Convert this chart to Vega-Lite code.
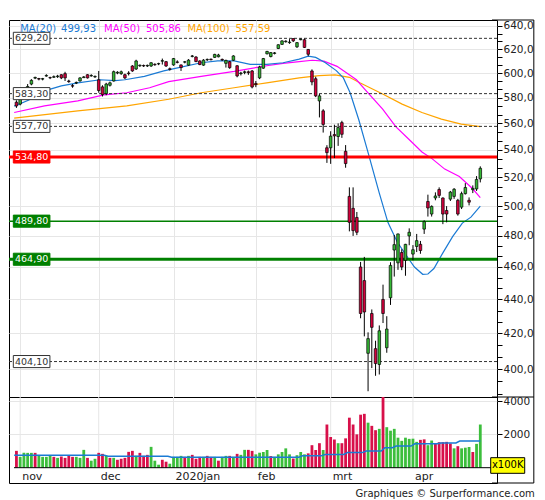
{
  "$schema": "https://vega.github.io/schema/vega-lite/v6.json",
  "padding": {"left": 7, "top": 19, "right": 0, "bottom": 0},
  "background": "white",
  "config": {
    "font": "DejaVu Sans",
    "view": {"stroke": "#000", "strokeWidth": 1},
    "axis": {"labelOverlap": false},
    "locale": {"number": {"decimal": ",", "thousands": ".", "grouping": [3], "currency": ["", " €"]}}
  },
  "title": {"text": "Graphiques © Surperformance.com", "orient": "bottom", "anchor": "end", "frame": "bounds", "fontSize": 10, "fontWeight": "normal", "color": "#222", "offset": 5, "baseline": "top"},
  "datasets": {
    "bars": [
      {"i":0,"o":576.5,"h":578,"l":572,"c":573.5,"v":1010,"vd":"d"},
      {"i":1,"o":575,"h":582,"l":574,"c":581,"v":650,"vd":"u"},
      {"i":2,"o":583,"h":587,"l":582,"c":586,"v":890,"vd":"u"},
      {"i":3,"o":587,"h":591,"l":586,"c":589,"v":890,"vd":"u"},
      {"i":4,"o":591,"h":595,"l":590,"c":594,"v":890,"vd":"u"},
      {"i":5,"o":595.8,"h":597,"l":595,"c":596.4,"v":890,"vd":"d"},
      {"i":6,"o":595.5,"h":596,"l":594,"c":595,"v":750,"vd":"u"},
      {"i":7,"o":595,"h":596,"l":594,"c":595.4,"v":650,"vd":"u"},
      {"i":8,"o":597.5,"h":599,"l":597,"c":598,"v":650,"vd":"u"},
      {"i":9,"o":596.3,"h":597,"l":595,"c":596,"v":750,"vd":"u"},
      {"i":10,"o":596.5,"h":598,"l":596,"c":597,"v":650,"vd":"d"},
      {"i":11,"o":597,"h":598.5,"l":596,"c":597.5,"v":590,"vd":"u"},
      {"i":12,"o":598.6,"h":599,"l":595,"c":596,"v":670,"vd":"d"},
      {"i":13,"o":599.5,"h":601,"l":593.5,"c":596,"v":590,"vd":"d"},
      {"i":14,"o":593.5,"h":594.5,"l":592,"c":593,"v":710,"vd":"d"},
      {"i":15,"o":589.7,"h":591,"l":588,"c":589.3,"v":650,"vd":"d"},
      {"i":16,"o":591.8,"h":593,"l":591,"c":592.3,"v":650,"vd":"u"},
      {"i":17,"o":593.5,"h":596.5,"l":593,"c":596,"v":590,"vd":"u"},
      {"i":18,"o":596.2,"h":597.5,"l":596,"c":596.8,"v":1070,"vd":"u"},
      {"i":19,"o":598.6,"h":599,"l":595.5,"c":596,"v":590,"vd":"d"},
      {"i":20,"o":597.6,"h":599,"l":597,"c":598,"v":420,"vd":"u"},
      {"i":21,"o":596.8,"h":598,"l":596,"c":597.2,"v":535,"vd":"u"},
      {"i":22,"o":594.5,"h":601.7,"l":584,"c":585.8,"v":890,"vd":"d"},
      {"i":23,"o":588.7,"h":590,"l":581,"c":582.5,"v":830,"vd":"d"},
      {"i":24,"o":583.3,"h":592,"l":582,"c":591,"v":710,"vd":"u"},
      {"i":25,"o":590,"h":593,"l":589,"c":592,"v":590,"vd":"d"},
      {"i":26,"o":593.5,"h":602,"l":593,"c":601.1,"v":590,"vd":"u"},
      {"i":27,"o":600,"h":601.5,"l":599,"c":600.6,"v":475,"vd":"d"},
      {"i":28,"o":599.5,"h":602,"l":598.5,"c":601,"v":535,"vd":"d"},
      {"i":29,"o":598.6,"h":599.5,"l":595,"c":596,"v":590,"vd":"d"},
      {"i":30,"o":600,"h":601.5,"l":598,"c":599.5,"v":950,"vd":"d"},
      {"i":31,"o":605.8,"h":606.5,"l":601,"c":601.7,"v":1010,"vd":"d"},
      {"i":32,"o":603.3,"h":611,"l":602.5,"c":610,"v":710,"vd":"u"},
      {"i":33,"o":606,"h":607,"l":605,"c":606.5,"v":890,"vd":"d"},
      {"i":34,"o":606.2,"h":607,"l":605,"c":605.8,"v":710,"vd":"d"},
      {"i":35,"o":605.8,"h":607,"l":605,"c":606.3,"v":770,"vd":"d"},
      {"i":36,"o":605.8,"h":609,"l":605,"c":608.5,"v":1250,"vd":"u"},
      {"i":37,"o":607.2,"h":608,"l":606,"c":606.8,"v":420,"vd":"u"},
      {"i":38,"o":607.5,"h":608.5,"l":606.5,"c":607.8,"v":180,"vd":"u"},
      {"i":39,"o":609.8,"h":612,"l":607,"c":610.3,"v":475,"vd":"d"},
      {"i":40,"o":609.4,"h":610,"l":605,"c":605.8,"v":360,"vd":"d"},
      {"i":41,"o":603.5,"h":604.5,"l":602,"c":603,"v":240,"vd":"u"},
      {"i":42,"o":606.7,"h":612.5,"l":606,"c":612,"v":650,"vd":"u"},
      {"i":43,"o":609.2,"h":610.5,"l":608,"c":608.8,"v":650,"vd":"u"},
      {"i":44,"o":606.7,"h":607,"l":601.7,"c":604.5,"v":710,"vd":"u"},
      {"i":45,"o":609,"h":610,"l":608,"c":609.3,"v":650,"vd":"d"},
      {"i":46,"o":606.5,"h":611.5,"l":606,"c":610.7,"v":710,"vd":"u"},
      {"i":47,"o":613.8,"h":615,"l":613,"c":614.2,"v":770,"vd":"d"},
      {"i":48,"o":613.3,"h":614,"l":609,"c":609.5,"v":535,"vd":"d"},
      {"i":49,"o":610,"h":610.5,"l":606.5,"c":607,"v":650,"vd":"d"},
      {"i":50,"o":606.5,"h":611.5,"l":606,"c":610.7,"v":650,"vd":"u"},
      {"i":51,"o":611,"h":612,"l":610,"c":611.3,"v":710,"vd":"d"},
      {"i":52,"o":611.5,"h":612,"l":610.5,"c":611,"v":650,"vd":"d"},
      {"i":53,"o":613,"h":616,"l":612.5,"c":615.5,"v":650,"vd":"u"},
      {"i":54,"o":613.5,"h":616,"l":613,"c":615,"v":420,"vd":"d"},
      {"i":55,"o":611.3,"h":612,"l":610,"c":610.8,"v":650,"vd":"u"},
      {"i":56,"o":608,"h":611,"l":604.5,"c":610.5,"v":710,"vd":"u"},
      {"i":57,"o":609.4,"h":610,"l":603.5,"c":604.4,"v":710,"vd":"d"},
      {"i":58,"o":610.6,"h":614.8,"l":610,"c":614.2,"v":650,"vd":"u"},
      {"i":59,"o":606,"h":606.5,"l":596.5,"c":597.6,"v":830,"vd":"d"},
      {"i":60,"o":599.5,"h":601,"l":598,"c":600,"v":770,"vd":"u"},
      {"i":61,"o":600.5,"h":602,"l":599,"c":601,"v":1070,"vd":"u"},
      {"i":62,"o":601,"h":602,"l":598.5,"c":600.3,"v":1070,"vd":"d"},
      {"i":63,"o":601.7,"h":602.5,"l":587.5,"c":588.6,"v":1010,"vd":"d"},
      {"i":64,"o":591.5,"h":593.5,"l":588.5,"c":590.5,"v":800,"vd":"u"},
      {"i":65,"o":596,"h":606,"l":595,"c":605,"v":900,"vd":"u"},
      {"i":66,"o":604,"h":612.5,"l":603.5,"c":612,"v":940,"vd":"u"},
      {"i":67,"o":616,"h":618.5,"l":615.5,"c":618,"v":1060,"vd":"u"},
      {"i":68,"o":613.7,"h":617.5,"l":613,"c":617,"v":700,"vd":"d"},
      {"i":69,"o":616.3,"h":617.5,"l":615.5,"c":616.8,"v":650,"vd":"u"},
      {"i":70,"o":620.5,"h":624,"l":620,"c":623.7,"v":800,"vd":"u"},
      {"i":71,"o":624,"h":627.5,"l":623.5,"c":627,"v":940,"vd":"u"},
      {"i":72,"o":626.3,"h":627.5,"l":625.5,"c":626.8,"v":1160,"vd":"u"},
      {"i":73,"o":625.5,"h":628.5,"l":624.5,"c":626,"v":800,"vd":"u"},
      {"i":74,"o":629,"h":629.2,"l":626,"c":627,"v":550,"vd":"d"},
      {"i":75,"o":621.9,"h":626,"l":621,"c":625.5,"v":750,"vd":"u"},
      {"i":76,"o":628,"h":629,"l":627.5,"c":628.5,"v":940,"vd":"u"},
      {"i":77,"o":628,"h":629,"l":621,"c":621.4,"v":800,"vd":"u"},
      {"i":78,"o":619.7,"h":620,"l":614,"c":615.6,"v":860,"vd":"d"},
      {"i":79,"o":601.7,"h":603,"l":590,"c":592.7,"v":1350,"vd":"d"},
      {"i":80,"o":595.3,"h":597,"l":580.5,"c":581.5,"v":1060,"vd":"d"},
      {"i":81,"o":577.5,"h":583,"l":564.6,"c":581.5,"v":1470,"vd":"d"},
      {"i":82,"o":569.7,"h":571,"l":553,"c":559.2,"v":1060,"vd":"u"},
      {"i":83,"o":541.6,"h":543.5,"l":530.5,"c":538,"v":2590,"vd":"d"},
      {"i":84,"o":541.6,"h":554,"l":529.8,"c":550.3,"v":1840,"vd":"d"},
      {"i":85,"o":551.5,"h":559,"l":534,"c":550.5,"v":1690,"vd":"d"},
      {"i":86,"o":550,"h":560,"l":543,"c":556.8,"v":1470,"vd":"u"},
      {"i":87,"o":560.6,"h":562,"l":549,"c":551.7,"v":1470,"vd":"d"},
      {"i":88,"o":539,"h":543.6,"l":527,"c":530,"v":1760,"vd":"d"},
      {"i":89,"o":506.7,"h":513,"l":483,"c":489,"v":3000,"vd":"d"},
      {"i":90,"o":498.5,"h":513,"l":480,"c":483.5,"v":2590,"vd":"d"},
      {"i":91,"o":492.3,"h":496,"l":480.5,"c":482.4,"v":2000,"vd":"d"},
      {"i":92,"o":460,"h":463.2,"l":428.8,"c":431.6,"v":3180,"vd":"d"},
      {"i":93,"o":451.5,"h":466.4,"l":418.3,"c":432.5,"v":3230,"vd":"d"},
      {"i":94,"o":408.7,"h":420.6,"l":388,"c":417,"v":2700,"vd":"u"},
      {"i":95,"o":431.6,"h":434,"l":400.5,"c":423.5,"v":2510,"vd":"d"},
      {"i":96,"o":411.3,"h":415.8,"l":396.3,"c":403,"v":2250,"vd":"d"},
      {"i":97,"o":402.5,"h":424.6,"l":397,"c":421.5,"v":2330,"vd":"u"},
      {"i":98,"o":440,"h":449,"l":426,"c":431.6,"v":4400,"vd":"d"},
      {"i":99,"o":411.8,"h":430,"l":409,"c":422.5,"v":2430,"vd":"u"},
      {"i":100,"o":441,"h":463,"l":436.7,"c":461,"v":2220,"vd":"u"},
      {"i":101,"o":470.8,"h":480.6,"l":454,"c":474.3,"v":2330,"vd":"u"},
      {"i":102,"o":462.6,"h":481.5,"l":458.2,"c":481.3,"v":1800,"vd":"u"},
      {"i":103,"o":469.2,"h":471.3,"l":458,"c":460,"v":1610,"vd":"u"},
      {"i":104,"o":464.2,"h":474.8,"l":454.5,"c":474.5,"v":1800,"vd":"u"},
      {"i":105,"o":480,"h":485,"l":473.9,"c":482.4,"v":1730,"vd":"u"},
      {"i":106,"o":468.2,"h":474,"l":464.2,"c":471,"v":1740,"vd":"u"},
      {"i":107,"o":473.1,"h":481.3,"l":469.5,"c":476.9,"v":1550,"vd":"u"},
      {"i":108,"o":474.5,"h":476.7,"l":468.4,"c":470.5,"v":1670,"vd":"d"},
      {"i":109,"o":484.5,"h":490.4,"l":481.3,"c":489.5,"v":1700,"vd":"d"},
      {"i":110,"o":503.2,"h":507.9,"l":492.9,"c":498.7,"v":1350,"vd":"u"},
      {"i":111,"o":494.6,"h":500.5,"l":492.9,"c":499.8,"v":1630,"vd":"u"},
      {"i":112,"o":505.6,"h":509.5,"l":504,"c":507,"v":1430,"vd":"d"},
      {"i":113,"o":511.5,"h":513,"l":505.6,"c":507.4,"v":1530,"vd":"d"},
      {"i":114,"o":505.6,"h":506,"l":487.8,"c":494.6,"v":1530,"vd":"d"},
      {"i":115,"o":497,"h":500,"l":489,"c":494.6,"v":1550,"vd":"d"},
      {"i":116,"o":504.8,"h":510.5,"l":503.5,"c":509.7,"v":1450,"vd":"d"},
      {"i":117,"o":506.7,"h":512.5,"l":505,"c":511.7,"v":1160,"vd":"u"},
      {"i":118,"o":504,"h":505,"l":493.5,"c":494.6,"v":1290,"vd":"d"},
      {"i":119,"o":499.3,"h":510,"l":498,"c":508.6,"v":1160,"vd":"u"},
      {"i":120,"o":508.6,"h":516,"l":508,"c":512.9,"v":1200,"vd":"u"},
      {"i":121,"o":504,"h":506,"l":500.5,"c":502.7,"v":1240,"vd":"u"},
      {"i":122,"o":511.4,"h":514.4,"l":509,"c":512.3,"v":940,"vd":"d"},
      {"i":123,"o":511.9,"h":521,"l":510.5,"c":518.6,"v":1430,"vd":"u"},
      {"i":124,"o":519,"h":528,"l":516.5,"c":526.6,"v":2590,"vd":"u"}
    ],
    "ma20": [
      {"i":-0.6,"p":573.4},{"i":3.2,"p":578},{"i":7.5,"p":585.5},{"i":12,"p":589.5},{"i":16.4,"p":592},
      {"i":22.4,"p":594.5},{"i":26.4,"p":593.8},{"i":29,"p":594.5},{"i":34.2,"p":597.2},{"i":39.4,"p":601.7},
      {"i":43.7,"p":604.7},{"i":49.4,"p":608.5},{"i":53.8,"p":610},{"i":58.2,"p":610},{"i":62.5,"p":607.2},
      {"i":66.9,"p":607.2},{"i":71.3,"p":608.5},{"i":75.6,"p":611.5},{"i":78,"p":614},{"i":80,"p":613},
      {"i":82.6,"p":608.5},{"i":85.5,"p":602},{"i":87.4,"p":596},{"i":89.2,"p":584},{"i":91.5,"p":563},
      {"i":93.8,"p":540},{"i":97,"p":509},{"i":99.3,"p":489},{"i":101.8,"p":476},{"i":104.6,"p":466},
      {"i":106.4,"p":460},{"i":108.6,"p":455.4},{"i":110,"p":455.6},{"i":111.6,"p":459},{"i":114,"p":469},
      {"i":116.6,"p":479.5},{"i":119.2,"p":488.5},{"i":121.5,"p":492.5},{"i":124,"p":499.93}
    ],
    "ma50": [
      {"i":-0.6,"p":568.4},{"i":7.5,"p":573.6},{"i":16.4,"p":577.5},{"i":23.4,"p":582.3},{"i":29.5,"p":584},
      {"i":35.6,"p":588},{"i":40.7,"p":593},{"i":49.4,"p":597.3},{"i":58.2,"p":601.3},{"i":66.9,"p":606},
      {"i":71.3,"p":608},{"i":75.6,"p":609.4},{"i":79.1,"p":610.6},{"i":82.2,"p":609.8},{"i":85.7,"p":605.5},
      {"i":88.3,"p":600},{"i":90.9,"p":594.5},{"i":93.5,"p":585.5},{"i":97.9,"p":571},{"i":101.4,"p":557.5},
      {"i":104.9,"p":548},{"i":108.4,"p":538.5},{"i":111,"p":533.8},{"i":114.5,"p":526},{"i":118.4,"p":520.7},
      {"i":121.9,"p":512.2},{"i":124,"p":505.86}
    ],
    "ma100": [
      {"i":-0.6,"p":564},{"i":16.4,"p":569.7},{"i":29.5,"p":573.6},{"i":40.7,"p":578.8},{"i":49.4,"p":584},
      {"i":58.2,"p":588},{"i":66.9,"p":592},{"i":75.6,"p":596},{"i":80.9,"p":597.9},{"i":85.2,"p":598.5},
      {"i":89,"p":596.5},{"i":91.8,"p":592},{"i":94.5,"p":588},{"i":97.9,"p":583},{"i":103.1,"p":575},
      {"i":108.4,"p":568.4},{"i":113.6,"p":563.3},{"i":118.9,"p":559.5},{"i":124,"p":557.59}
    ],
    "vma": [
      {"i":-0.6,"v":750},{"i":23.5,"v":750},{"i":24.5,"v":690},{"i":40.5,"v":690},{"i":41.5,"v":630},
      {"i":75.5,"v":630},{"i":76.5,"v":710},{"i":81.5,"v":710},{"i":82.5,"v":790},{"i":87.5,"v":790},
      {"i":88.5,"v":906},{"i":92.5,"v":906},{"i":93.5,"v":1005},{"i":97.5,"v":1005},{"i":98.5,"v":1200},
      {"i":100.5,"v":1200},{"i":101.5,"v":1300},{"i":105.5,"v":1300},{"i":106.5,"v":1430},{"i":112.5,"v":1430},
      {"i":113.5,"v":1480},{"i":117.5,"v":1480},{"i":118.5,"v":1600},{"i":124,"v":1600}
    ],
    "levels": [
      {"p":629.2,"kind":"dash"},
      {"p":583.3,"kind":"dash"},
      {"p":557.7,"kind":"dash"},
      {"p":534.8,"kind":"red"},
      {"p":489.8,"kind":"green"},
      {"p":464.9,"kind":"green2"},
      {"p":404.1,"kind":"dash"}
    ],
    "months": [
      {"i":1,"m":"nov"},{"i":22,"m":"dec"},{"i":42,"m":"2020jan"},
      {"i":64,"m":"feb"},{"i":84,"m":"mrt"},{"i":106,"m":"apr"}
    ],
    "one": [{}]
  },
  "spacing": 0,
  "bounds": "flush",
  "vconcat": [
    {
      "width": 488,
      "height": 377,
      "layer": [
        {
          "data": {"name": "ma100"},
          "mark": {"type": "line", "color": "#ffa500", "strokeWidth": 1.2},
          "encoding": {
            "x": {"field": "i", "type": "quantitative", "scale": {"domain": [-0.65, 127.13], "nice": false, "zero": false},
              "axis": {"orient": "bottom", "values": [1, 22, 42, 64, 84, 106], "grid": true, "gridColor": "#e6e6e6", "labels": false, "ticks": false, "domain": false, "title": null}},
            "y": {"field": "p", "type": "quantitative", "scale": {"type": "log", "domain": [384.95, 645.2], "nice": false, "zero": false},
              "axis": {"orient": "right", "title": null, "domain": false, "format": ".1f", "labelOverlap": false,
                "values": [386.667, 393.333, 400, 406.667, 413.333, 420, 426.667, 433.333, 440, 446.667, 453.333, 460, 466.667, 473.333, 480, 486.667, 493.333, 500, 506.667, 513.333, 520, 526.667, 533.333, 540, 546.667, 553.333, 560, 566.667, 573.333, 580, 586.667, 593.333, 600, 606.667, 613.333, 620, 626.667, 633.333, 640],
                "labelExpr": "abs(datum.value/20 - round(datum.value/20)) < 0.01 ? datum.label : ''",
                "grid": true, "gridColor": "#e6e6e6",
                "gridOpacity": {"condition": {"test": "abs(datum.value/20 - round(datum.value/20)) > 0.01", "value": 0}, "value": 1},
                "tickSize": 5, "tickColor": "#000", "labelPadding": 1, "labelFontSize": 10.5, "labelColor": "#222"}}
          }
        },
        {
          "data": {"name": "ma50"},
          "mark": {"type": "line", "color": "#ff00ff", "strokeWidth": 1.2},
          "encoding": {
            "x": {"field": "i", "type": "quantitative"},
            "y": {"field": "p", "type": "quantitative"}
          }
        },
        {
          "data": {"name": "ma20"},
          "mark": {"type": "line", "color": "#1a7ad4", "strokeWidth": 1.2},
          "encoding": {
            "x": {"field": "i", "type": "quantitative"},
            "y": {"field": "p", "type": "quantitative"}
          }
        },
        {
          "data": {"name": "levels"},
          "transform": [{"filter": "datum.kind == 'dash'"}],
          "mark": {"type": "rule", "color": "#333", "strokeWidth": 1, "strokeDash": [3, 2]},
          "encoding": {"y": {"field": "p", "type": "quantitative"}}
        },
        {
          "data": {"name": "levels"},
          "transform": [{"filter": "datum.kind == 'red'"}],
          "mark": {"type": "rule", "color": "#ff0000", "strokeWidth": 3},
          "encoding": {"y": {"field": "p", "type": "quantitative"}}
        },
        {
          "data": {"name": "levels"},
          "transform": [{"filter": "datum.kind == 'green'"}],
          "mark": {"type": "rule", "color": "#008000", "strokeWidth": 1.5},
          "encoding": {"y": {"field": "p", "type": "quantitative"}}
        },
        {
          "data": {"name": "levels"},
          "transform": [{"filter": "datum.kind == 'green2'"}],
          "mark": {"type": "rule", "color": "#008000", "strokeWidth": 3},
          "encoding": {"y": {"field": "p", "type": "quantitative"}}
        },
        {
          "data": {"name": "bars"},
          "mark": {"type": "rule", "color": "#000", "strokeWidth": 1},
          "encoding": {
            "x": {"field": "i", "type": "quantitative"},
            "y": {"field": "l", "type": "quantitative"},
            "y2": {"field": "h"}
          }
        },
        {
          "data": {"name": "bars"},
          "mark": {"type": "bar", "size": 2.6, "stroke": "#000", "strokeWidth": 0.7},
          "encoding": {
            "x": {"field": "i", "type": "quantitative"},
            "y": {"field": "o", "type": "quantitative"},
            "y2": {"field": "c"},
            "fill": {"condition": {"test": "datum.c >= datum.o", "value": "#35b835"}, "value": "#d2003c"}
          }
        },
        {
          "data": {"name": "levels"},
          "mark": {"type": "point", "shape": "M-1,-0.33L1,-0.33L1,0.33L-1,0.33Z", "size": 1340, "filled": true, "opacity": 1, "strokeWidth": 1},
          "encoding": {
            "x": {"datum": 4.06},
            "y": {"field": "p", "type": "quantitative"},
            "fill": {"condition": [{"test": "datum.kind == 'red'", "value": "#ff0000"}, {"test": "datum.kind == 'green' || datum.kind == 'green2'", "value": "#008000"}], "value": "#ffffff"},
            "stroke": {"condition": [{"test": "datum.kind == 'red'", "value": "#ff0000"}, {"test": "datum.kind == 'green' || datum.kind == 'green2'", "value": "#008000"}], "value": "#333333"}
          }
        },
        {
          "data": {"name": "levels"},
          "mark": {"type": "text", "fontSize": 9.5, "align": "center", "baseline": "middle"},
          "encoding": {
            "x": {"datum": 4.06},
            "y": {"field": "p", "type": "quantitative"},
            "text": {"field": "p", "type": "quantitative", "format": ".2f"},
            "color": {"condition": {"test": "datum.kind != 'dash'", "value": "#ffffff"}, "value": "#333333"}
          }
        },
        {
          "data": {"name": "one"},
          "mark": {"type": "text", "fontSize": 10, "align": "left", "baseline": "middle", "color": "#1a7ad4"},
          "encoding": {"x": {"datum": 1.0}, "y": {"datum": 637.5}, "text": {"value": "MA(20)"}}
        },
        {
          "data": {"name": "one"},
          "mark": {"type": "text", "fontSize": 10, "align": "left", "baseline": "middle", "color": "#1a7ad4"},
          "encoding": {"x": {"datum": 11.92}, "y": {"datum": 637.5}, "text": {"value": "499,93"}}
        },
        {
          "data": {"name": "one"},
          "mark": {"type": "text", "fontSize": 10, "align": "left", "baseline": "middle", "color": "#ff00ff"},
          "encoding": {"x": {"datum": 23.44}, "y": {"datum": 637.5}, "text": {"value": "MA(50)"}}
        },
        {
          "data": {"name": "one"},
          "mark": {"type": "text", "fontSize": 10, "align": "left", "baseline": "middle", "color": "#ff00ff"},
          "encoding": {"x": {"datum": 34.62}, "y": {"datum": 637.5}, "text": {"value": "505,86"}}
        },
        {
          "data": {"name": "one"},
          "mark": {"type": "text", "fontSize": 10, "align": "left", "baseline": "middle", "color": "#ffa500"},
          "encoding": {"x": {"datum": 45.7}, "y": {"datum": 637.5}, "text": {"value": "MA(100)"}}
        },
        {
          "data": {"name": "one"},
          "mark": {"type": "text", "fontSize": 10, "align": "left", "baseline": "middle", "color": "#ffa500"},
          "encoding": {"x": {"datum": 58.53}, "y": {"datum": 637.5}, "text": {"value": "557,59"}}
        },
        {
          "data": {"name": "one"},
          "mark": {"type": "rule", "color": "#000", "strokeWidth": 1},
          "encoding": {"x": {"datum": 138.31}, "y": {"datum": 384.95}, "y2": {"datum": 645.2}}
        },
        {
          "data": {"name": "one"},
          "mark": {"type": "rule", "color": "#000", "strokeWidth": 1},
          "encoding": {"x": {"datum": 127.13}, "x2": {"datum": 138.31}, "y": {"datum": 645.2}}
        },
        {
          "data": {"name": "one"},
          "mark": {"type": "rule", "color": "#000", "strokeWidth": 1},
          "encoding": {"x": {"datum": 127.13}, "x2": {"datum": 138.31}, "y": {"datum": 384.95}}
        }
      ]
    },
    {
      "width": 488,
      "height": 86,
      "layer": [
        {
          "data": {"name": "months"},
          "mark": {"type": "rule", "color": "#e6e6e6", "strokeWidth": 1},
          "encoding": {
            "x": {"field": "i", "type": "quantitative", "scale": {"domain": [-0.65, 127.13], "nice": false, "zero": false}, "axis": null},
            "y": {"datum": 0, "type": "quantitative", "scale": {"domain": [-917.5, 4240], "nice": false, "zero": false},
              "axis": {"orient": "right", "title": null, "domain": false, "format": "d", "labelOverlap": false,
                "values": [2000, 4000],
                "grid": true, "gridColor": "#e6e6e6",
                "tickSize": 5, "tickColor": "#000", "labelPadding": 1, "labelFontSize": 10.5, "labelColor": "#222"}},
            "y2": {"datum": 4240}
          }
        },
        {
          "data": {"name": "bars"},
          "mark": {"type": "bar", "size": 2.8, "clip": true},
          "encoding": {
            "x": {"field": "i", "type": "quantitative", "axis": null},
            "y": {"field": "v", "type": "quantitative"},
            "y2": {"datum": 0},
            "color": {"condition": {"test": "datum.vd == 'u'", "value": "#3cbe3c"}, "value": "#d8104a"}
          }
        },
        {
          "data": {"name": "vma"},
          "mark": {"type": "line", "color": "#1a7ad4", "strokeWidth": 1.5},
          "encoding": {
            "x": {"field": "i", "type": "quantitative", "axis": null},
            "y": {"field": "v", "type": "quantitative"}
          }
        },
        {
          "data": {"name": "one"},
          "mark": {"type": "rule", "color": "#000", "strokeWidth": 1},
          "encoding": {"x": {"datum": -0.65, "axis": null}, "x2": {"datum": 127.13}, "y": {"datum": 0}}
        },
        {
          "data": {"name": "months"},
          "mark": {"type": "text", "fontSize": 11, "align": "left", "baseline": "middle", "dx": 2, "color": "#222"},
          "encoding": {
            "x": {"field": "i", "type": "quantitative", "axis": null},
            "y": {"datum": -528},
            "text": {"field": "m"}
          }
        },
        {
          "data": {"name": "one"},
          "mark": {"type": "point", "shape": "M-1,-0.46L1,-0.46L1,0.46L-1,0.46Z", "size": 1156, "filled": true, "opacity": 1, "fill": "#ffff00", "stroke": "#000", "strokeWidth": 1},
          "encoding": {"x": {"datum": 131.33, "axis": null}, "y": {"datum": 132}}
        },
        {
          "data": {"name": "one"},
          "mark": {"type": "text", "fontSize": 10, "align": "center", "baseline": "middle", "color": "#000"},
          "encoding": {"x": {"datum": 131.33, "axis": null}, "y": {"datum": 132}, "text": {"value": "x100K"}}
        },
        {
          "data": {"name": "one"},
          "mark": {"type": "rule", "color": "#000", "strokeWidth": 1},
          "encoding": {"x": {"datum": 138.31, "axis": null}, "y": {"datum": -917.5}, "y2": {"datum": 4240}}
        },
        {
          "data": {"name": "one"},
          "mark": {"type": "rule", "color": "#000", "strokeWidth": 1},
          "encoding": {"x": {"datum": 127.13, "axis": null}, "x2": {"datum": 138.31}, "y": {"datum": -917.5}}
        }
      ]
    }
  ]
}
